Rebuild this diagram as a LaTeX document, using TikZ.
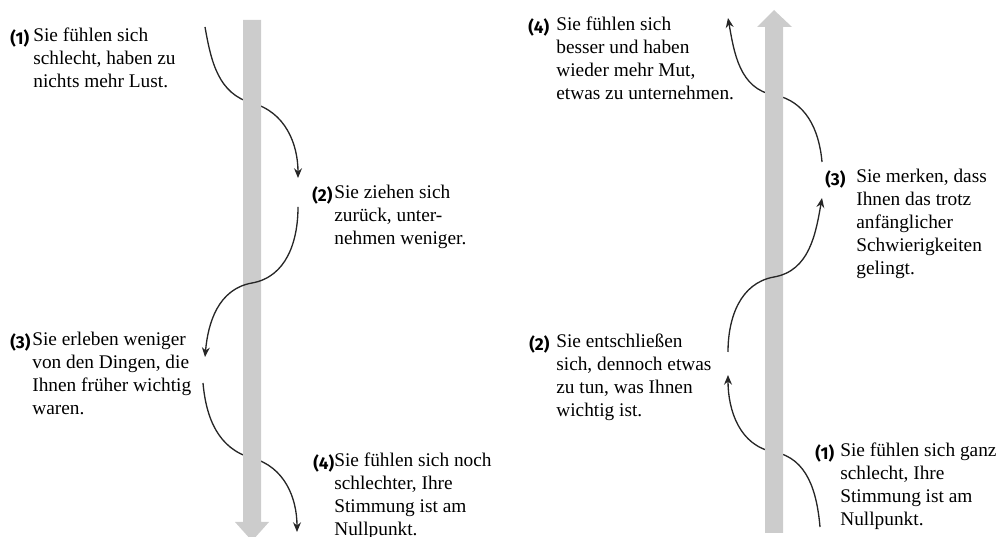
\documentclass[tikz,border=0pt]{standalone}
\usepackage{fontspec}
\setmainfont{Liberation Serif}
\newfontfamily\numfont{Fira Sans}
\usetikzlibrary{arrows.meta}
\tikzset{txt/.style={font=\fontsize{11}{13}\selectfont, align=left, anchor=north west, inner sep=0pt, execute at begin node=\strut}}
\tikzset{num/.style={font=\numfont\bfseries\fontsize{9.8}{13}\selectfont, anchor=north west, inner sep=0pt, execute at begin node=\strut}}
\tikzset{bar/.style={fill=black!20}}
\tikzset{flow/.style={line width=0.75pt, draw=black!85, -{Stealth[length=5.5pt,width=4.5pt]}}}

\begin{document}
\begin{tikzpicture}[x=0.02cm, y=0.02cm]
    \useasboundingbox (0,0) rectangle (1000,537);
    % left side: going down
    \node[txt] (t1) at (33,509) {Sie fühlen sich\\schlecht, haben zu\\nichts mehr Lust.};
    \node[num] (n1) at (10,509) {(1)};
    \node[txt] (t2) at (334,352) {Sie ziehen sich\\zurück, unter-\\nehmen weniger.};
    \node[num] (n2) at (312,352) {(2)};
    \node[txt] (t3) at (32,205) {Sie erleben weniger\\von den Dingen, die\\Ihnen früher wichtig\\waren.};
    \node[num] (n3) at (10,205) {(3)};
    \node[txt] (t4) at (334,84) {Sie fühlen sich noch\\schlechter, Ihre\\Stimmung ist am\\Nullpunkt.};
    \node[num] (n4) at (313,84) {(4)};
    % right side: going up
    \node[txt] (r1) at (840,94) {Sie fühlen sich ganz\\schlecht, Ihre\\Stimmung ist am\\Nullpunkt.};
    \node[num] (m1) at (815,94) {(1)};
    \node[txt] (r2) at (556,203) {Sie entschließen\\sich, dennoch etwas\\zu tun, was Ihnen\\wichtig ist.};
    \node[num] (m2) at (529,203) {(2)};
    \node[txt] (r3) at (856,368) {Sie merken, dass\\Ihnen das trotz\\anfänglicher\\Schwierigkeiten\\gelingt.};
    \node[num] (m3) at (825,368) {(3)};
    \node[txt] (r4) at (556,520) {Sie fühlen sich\\besser und haben\\wieder mehr Mut,\\etwas zu unternehmen.};
    \node[num] (m4) at (528,520) {(4)};

    % curve points
    \coordinate (a1) at (205,510); \coordinate (a2) at (252,434); \coordinate (a3) at (298,359);
    \coordinate (b1) at (298,330); \coordinate (b2) at (252,254); \coordinate (b3) at (205,180);
    \coordinate (c1) at (203,154); \coordinate (c2) at (252,79);  \coordinate (c3) at (297,5);
    \coordinate (p1) at (820,10);  \coordinate (p2) at (774,85);  \coordinate (p3) at (728,162);
    \coordinate (q1) at (728,185); \coordinate (q2) at (774,260); \coordinate (q3) at (822,339);
    \coordinate (s1) at (822,375); \coordinate (s2) at (774,442); \coordinate (s3) at (728,519);

    % behind the bars
    \draw[flow] (a1) to[out=-80,in=165] (a2) to[out=-15,in=90] (a3);
    \draw[flow] (c1) to[out=-85,in=165] (c2) to[out=-15,in=90] (c3);
    \draw[flow] (p1) to[out=95,in=-10] (p2) to[out=170,in=-90] (p3);
    \draw[flow] (s1) to[out=95,in=-10] (s2) to[out=170,in=-80] (s3);

    % bars
    \fill[bar] (243,517) -- (261,517) -- (261,15) -- (269,15) -- (252,-4) -- (235,15) -- (243,15) -- cycle;
    \fill[bar] (765,4) -- (783,4) -- (783,510) -- (792,510) -- (774,527) -- (757,510) -- (765,510) -- cycle;

    % over the bars
    \draw[flow] (b1) to[out=-90,in=10] (b2) to[out=190,in=85] (b3);
    \draw[flow] (q1) to[out=90,in=190] (q2) to[out=10,in=-100] (q3);
\end{tikzpicture}
\end{document}
